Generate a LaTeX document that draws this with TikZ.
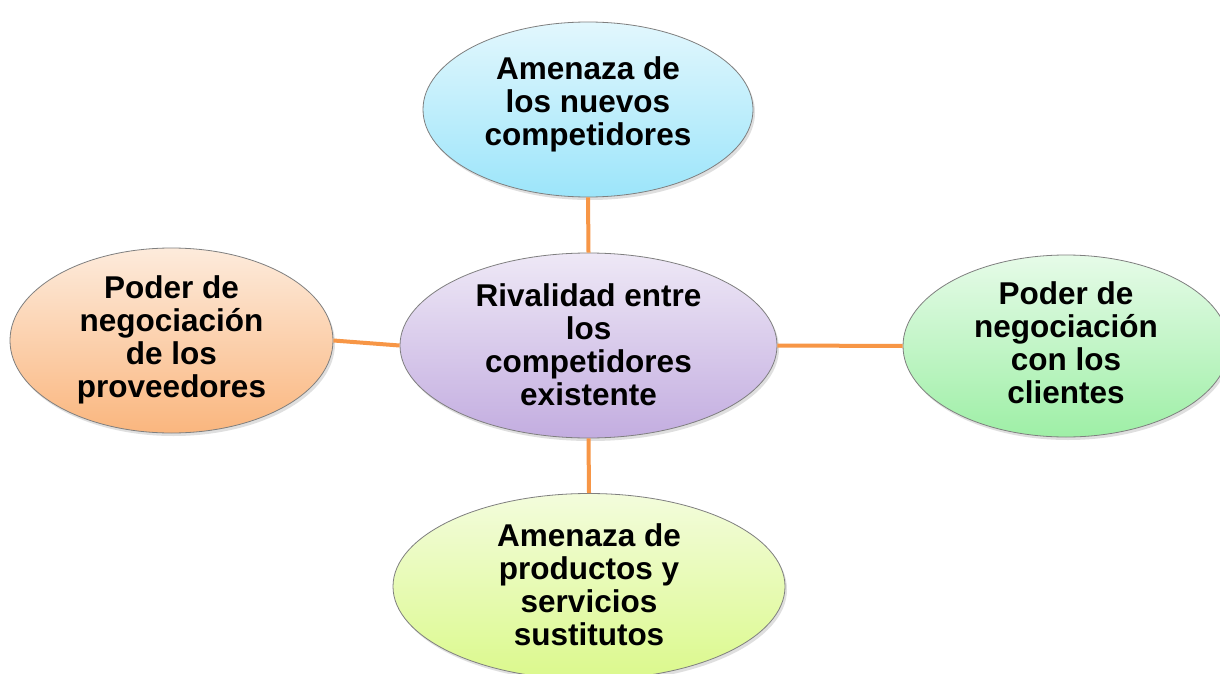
\documentclass[tikz,border=0pt]{standalone}
\usepackage{fontspec}
\setmainfont{Liberation Sans}
\usetikzlibrary{shapes.geometric,shadows}
\definecolor{linkorange}{HTML}{F79646}
\definecolor{rimgray}{HTML}{7F7F7F}
\definecolor{cyanTop}{HTML}{E2F7FD}
\definecolor{cyanBot}{HTML}{9CE5FA}
\definecolor{peachTop}{HTML}{FDEBDC}
\definecolor{peachBot}{HTML}{FAB67E}
\definecolor{lilacTop}{HTML}{EEE8F6}
\definecolor{lilacBot}{HTML}{C3ADE0}
\definecolor{mintTop}{HTML}{E6FBE8}
\definecolor{mintBot}{HTML}{9EEFA6}
\definecolor{limeTop}{HTML}{F3FCDC}
\definecolor{limeBot}{HTML}{DBF98C}
\tikzset{
  bubble/.style={ellipse, draw=rimgray, line width=0.8pt, inner sep=0pt,
    drop shadow={shadow xshift=2pt, shadow yshift=-3pt, opacity=0.25}},
  label/.style={align=center, font=\fontsize{31.5}{33}\selectfont\bfseries, inner sep=0pt},
  link/.style={draw=linkorange, line width=4pt}
}
\begin{document}
\begin{tikzpicture}[x=1pt,y=-1pt]
\useasboundingbox[fill=white] (0,0) rectangle (1220,674);
% ellipses
\node[bubble, minimum width=330pt, minimum height=175pt, top color=cyanTop, bottom color=cyanBot] (top) at (588,109.5) {};
\node[bubble, minimum width=377pt, minimum height=185pt, top color=lilacTop, bottom color=lilacBot] (mid) at (588.5,345.5) {};
\node[bubble, minimum width=323pt, minimum height=185pt, top color=peachTop, bottom color=peachBot] (lft) at (171.5,340.5) {};
\node[bubble, minimum width=326pt, minimum height=182pt, top color=mintTop, bottom color=mintBot] (rgt) at (1066,346) {};
\node[bubble, minimum width=392pt, minimum height=186pt, top color=limeTop, bottom color=limeBot] (bot) at (589,586.5) {};
% connectors (behind ellipses visually they meet at rims)
\begin{scope}[on background layer/.try]
\end{scope}
\draw[link] (top.south) -- (mid.north);
\draw[link] (lft.east) -- (mid.west);
\draw[link] (mid.east) -- (rgt.west);
\draw[link] (mid.south) -- (bot.north);
% texts
\node[label] (topT) at (588,104) {Amenaza de\\los nuevos\\competidores};
\node[label] (midT) at (588.5,345) {Rivalidad entre\\los\\competidores\\existente};
\node[label] (lftT) at (171.5,340) {Poder de\\negociación\\de los\\proveedores};
\node[label] (rgtT) at (1066,343) {Poder de\\negociación\\con los\\clientes};
\node[label] (botT) at (589,585) {Amenaza de\\productos y\\servicios\\sustitutos};
\end{tikzpicture}
\end{document}
